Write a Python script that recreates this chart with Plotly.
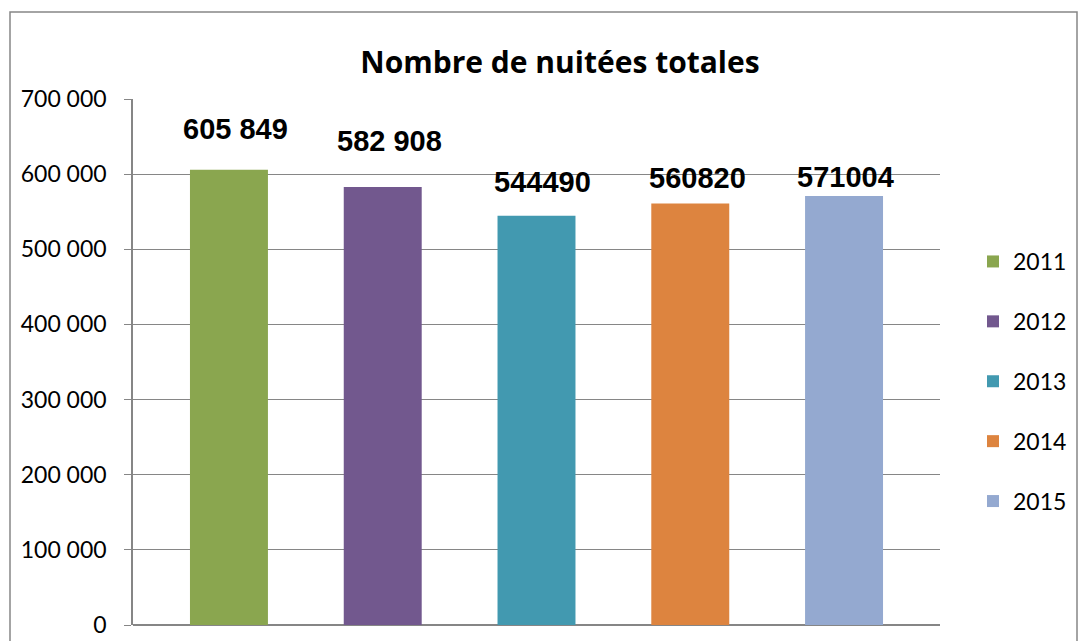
import plotly.graph_objects as go

# Data
years = ["2011", "2012", "2013", "2014", "2015"]
nuitees = [605849, 582908, 544490, 560820, 571004]
labels = ["605 849", "582 908", "544490", "560820", "571004"]
colors = ["#8AA64F", "#72588E", "#4299B0", "#DD843F", "#94A9D0"]
tick_vals = [0, 100000, 200000, 300000, 400000, 500000, 600000, 700000]

# labels were moved by hand in the original, keep the same offsets
label_xshift = [7, 7, 6, 7, 1]
label_yshift = [23, 28, 16, 8, 1]

# page sits inside the default 8px body margin
OFF = 8
W, H = 1088 - OFF, 641 - OFF
L = 133 - OFF
T = 99 - OFF
plot_right = 940 - OFF
plot_bottom = 625 - OFF
R = W - plot_right
B = H - plot_bottom
pw, ph = plot_right - L, plot_bottom - T


def px_x(p):
    return (p - OFF - L) / pw


def px_y(p):
    return (plot_bottom - (p - OFF)) / ph


fig = go.Figure()
for i, (yr, v, c) in enumerate(zip(years, nuitees, colors)):
    fig.add_trace(go.Bar(
        x=[i], y=[v], name=yr, width=0.507,
        marker=dict(color=c, line=dict(width=0)),
        legendgroup=yr, hoverinfo="y",
    ))
    fig.add_annotation(
        x=i, y=v, text=labels[i], showarrow=False,
        yanchor="bottom", xshift=label_xshift[i], yshift=label_yshift[i],
        font=dict(family="Liberation Sans", size=29, color="black", weight="bold"),
    )

grid = "#868686"

fig.update_layout(
    width=W, height=H,
    margin=dict(l=L, r=R, t=T, b=B, pad=0, autoexpand=False),
    paper_bgcolor="white", plot_bgcolor="white",
    barmode="overlay",
    separators=", ",
    font=dict(family="Lato", size=23, color="black"),
    showlegend=True,
    legend=dict(
        x=px_x(973), xanchor="left",
        y=px_y(240), yanchor="top",
        tracegroupgap=27,
        font=dict(family="Lato", size=23, color="black"),
        bgcolor="rgba(0,0,0,0)",
    ),
    xaxis=dict(
        range=[-0.624, 4.624], showticklabels=False, showgrid=False,
        zeroline=False, showline=False, fixedrange=True, automargin=False,
    ),
    yaxis=dict(
        range=[0, 700000], tickvals=tick_vals, tickformat=",d",
        showgrid=True, gridcolor=grid, gridwidth=1.2,
        showline=True, linecolor=grid, linewidth=1.5,
        ticks="outside", ticklen=7, tickcolor=grid, tickwidth=1.2,
        zeroline=True, zerolinecolor=grid, zerolinewidth=1.5,
        ticklabelstandoff=13, automargin=False,
        tickfont=dict(family="Lato", size=23, color="black"),
    ),
    title=dict(
        text="<b>Nombre de nuitées totales</b>",
        x=(560 - OFF) / W, xanchor="center",
        y=1 - (62 - OFF) / H, yanchor="middle",
        font=dict(family="Open Sans", size=30, color="black"),
    ),
)

# outer chart border (bottom edge runs off the image)
fig.add_shape(
    type="rect", xref="paper", yref="paper",
    x0=px_x(10), x1=px_x(1077),
    y0=px_y(660), y1=px_y(12),
    line=dict(color=grid, width=1.5), fillcolor="rgba(0,0,0,0)", layer="below",
)

fig.write_html("out.html")
